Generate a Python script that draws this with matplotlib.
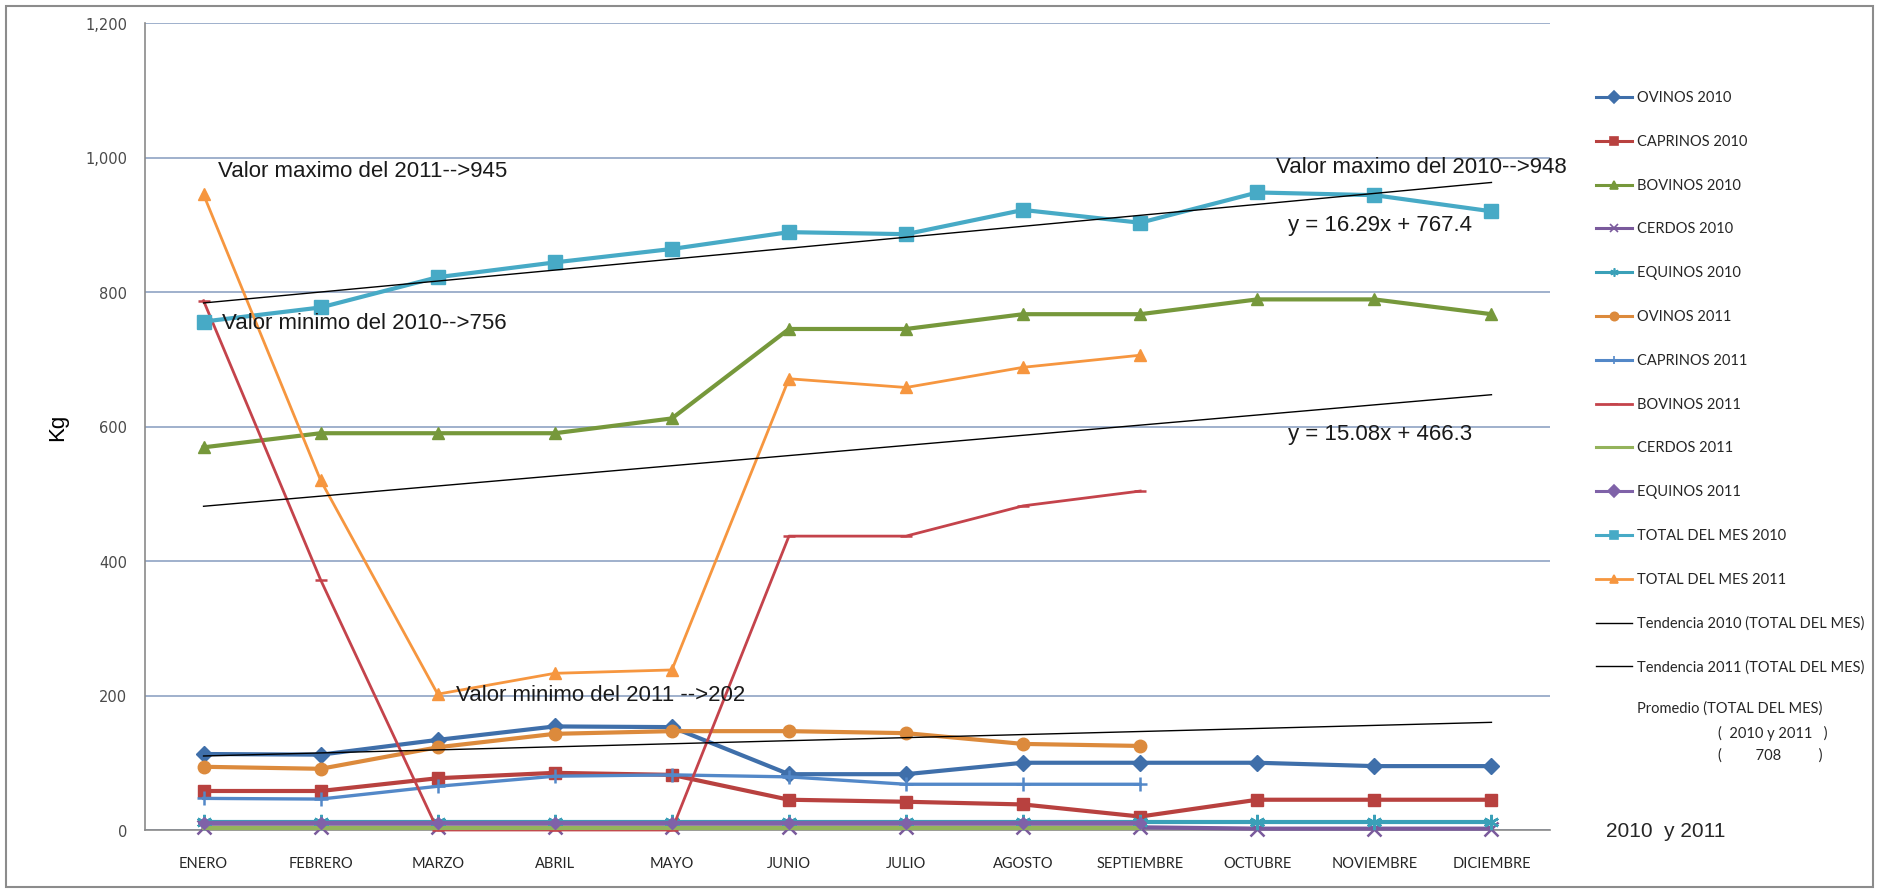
import matplotlib
matplotlib.use("Agg")
import matplotlib.pyplot as plt
from matplotlib.lines import Line2D
from matplotlib.patches import Rectangle
import numpy as np

# data (Kg per month)
months = ['ENERO', 'FEBRERO', 'MARZO', 'ABRIL', 'MAYO', 'JUNIO', 'JULIO',
          'AGOSTO', 'SEPTIEMBRE', 'OCTUBRE', 'NOVIEMBRE', 'DICIEMBRE']

ovinos_2010 = [113, 112, 134, 154, 153, 83, 83, 100, 100, 100, 95, 95]
caprinos_2010 = [58, 58, 77, 85, 82, 45, 42, 38, 20, 45, 45, 45]
bovinos_2010 = [569, 590, 590, 590, 612, 745, 745, 767, 767, 789, 789, 767]
cerdos_2010 = [4, 4, 4, 4, 4, 4, 4, 4, 4, 2, 2, 2]
equinos_2010 = [12, 12, 12, 12, 12, 12, 12, 12, 12, 12, 12, 12]

ovinos_2011 = [94, 91, 123, 143, 147, 147, 144, 128, 125]
caprinos_2011 = [47, 46, 65, 80, 82, 79, 68, 68, 68]
bovinos_2011 = [787, 372, 0, 0, 0, 437, 437, 482, 504]
cerdos_2011 = [3, 3, 3, 3, 3, 3, 3, 3, 3]
equinos_2011 = [10, 10, 10, 10, 10, 10, 10, 10, 10]

total_2010 = [756, 777, 822, 844, 864, 889, 886, 922, 903, 948, 944, 920]
total_2011 = [945, 520, 202, 233, 238, 671, 658, 688, 706]

# trend lines (slope, intercept) as printed on the chart, x = 1..12
trend_2010 = (16.29, 767.4)
trend_2011 = (15.08, 466.3)
trend_prom = (4.55, 105.5)

W, H = 1879, 895

def fx(x):
    return x / W

def fy(y):
    return 1 - y / H

fig = plt.figure(figsize=(W / 100, H / 100), dpi=100)
fig.add_artist(Rectangle((fx(6), fy(888)), fx(1867), 881 / H, transform=fig.transFigure,
                         fill=False, edgecolor='#8c8c8c', lw=1.5))

ax = fig.add_axes([fx(145), fy(831), fx(1550) - fx(145), (831 - 24) / H])

# series: label, values, color, marker, marker size, line width
series = [
    ('OVINOS 2010', ovinos_2010, '#3f6faa', 'D', 8, 3.0),
    ('CAPRINOS 2010', caprinos_2010, '#b8413f', 's', 9, 3.0),
    ('BOVINOS 2010', bovinos_2010, '#76983b', '^', 9, 3.0),
    ('CERDOS 2010', cerdos_2010, '#7a5a9c', 'x', 10, 3.0),
    ('EQUINOS 2010', equinos_2010, '#3aa0b8', (6, 2, 0), 11, 3.0),
    ('OVINOS 2011', ovinos_2011, '#dc8a3c', 'o', 9, 3.0),
    ('CAPRINOS 2011', caprinos_2011, '#5388c8', '+', 10, 2.4),
    ('BOVINOS 2011', bovinos_2011, '#c4434b', '_', 8, 2.0),
    ('CERDOS 2011', cerdos_2011, '#94b35b', None, 0, 3.0),
    ('EQUINOS 2011', equinos_2011, '#7f62a8', 'D', 6, 3.0),
    ('TOTAL DEL MES 2010', total_2010, '#47aac6', 's', 10, 3.0),
    ('TOTAL DEL MES 2011', total_2011, '#f6963f', '^', 9, 2.0),
]

x = np.arange(len(months))
for i, (label, vals, col, mk, ms, lw) in enumerate(series):
    ax.plot(x[:len(vals)], vals, color=col, marker=mk, markersize=ms, lw=lw,
            markeredgewidth=1.8 if mk in ('x', '+', '_', (6, 2, 0)) else 1,
            markeredgecolor=col, zorder=3 + i * 0.1, clip_on=False)

xt = np.arange(1, 13)
for slope, icpt in (trend_2010, trend_2011, trend_prom):
    ax.plot(xt - 1, slope * xt + icpt, color='black', lw=1.0, zorder=5)

ax.set_xlim(-0.5, 11.5)
ax.set_ylim(0, 1200)
ax.set_yticks(range(0, 1201, 200))
ax.set_yticklabels(['{:,}'.format(v) for v in range(0, 1201, 200)],
                   fontsize=10.5, color='#4a4a4a', family='DejaVu Sans')
ax.set_xticks(x)
ax.set_xticklabels(months, fontsize=10.5, family='Lato', color='#262626')
ax.tick_params(axis='both', length=0)
ax.tick_params(axis='y', pad=13)
ax.tick_params(axis='x', pad=19)
ax.yaxis.grid(True, color='#8fa3c3', lw=1.2)
ax.set_axisbelow(True)
for s in ('top', 'right'):
    ax.spines[s].set_visible(False)
for s in ('left', 'bottom'):
    ax.spines[s].set_color('#8a8a8a')
    ax.spines[s].set_linewidth(1.2)
ax.set_ylabel('Kg', fontsize=16, family='Liberation Sans', labelpad=12)

# annotations
tkw = dict(fontsize=16, family='Liberation Sans', color='#1a1a1a', va='center', zorder=6)
ax.text(0.12, 980, 'Valor maximo del 2011-->945', **tkw)
ax.text(0.16, 755, 'Valor minimo del 2010-->756', **tkw)
ax.text(9.16, 987, 'Valor maximo del 2010-->948', **tkw)
ax.text(9.26, 900, 'y = 16.29x + 767.4', **tkw)
ax.text(9.26, 589, 'y = 15.08x + 466.3', **tkw)
ax.text(2.16, 202, 'Valor minimo del 2011 -->202', **tkw)

# legend drawn by hand
leg = [(s[0], s[2], s[3], s[5]) for s in series]
leg += [('Tendencia 2010 (TOTAL DEL MES)', 'black', None, 1.0),
        ('Tendencia 2011 (TOTAL DEL MES)', 'black', None, 1.0)]
for i, (label, col, mk, lw) in enumerate(leg):
    y = 98 + i * 43.8
    fig.add_artist(Line2D([fx(1596), fx(1614), fx(1632)], [fy(y)] * 3, transform=fig.transFigure,
                          color=col, lw=min(lw, 2.2), marker=mk, markersize=6, markevery=[1],
                          markeredgecolor=col, markeredgewidth=1.2))
    fig.text(fx(1637), fy(y), label, fontsize=10.5, family='Lato', color='#262626', va='center')

fig.text(fx(1637), fy(709), 'Promedio (TOTAL DEL MES)', fontsize=10.5, family='Lato',
         color='#262626', va='center')
fig.text(fx(1718), fy(733), '(  2010 y 2011   )', fontsize=10.5, family='Lato',
         color='#262626', va='center')
fig.text(fx(1718), fy(756), '(         708          )', fontsize=10.5, family='Lato',
         color='#262626', va='center')
fig.text(fx(1606), fy(832), '2010  y 2011', fontsize=15, family='Liberation Sans',
         color='#262626', va='center')

fig.savefig('out.png', dpi=100)
